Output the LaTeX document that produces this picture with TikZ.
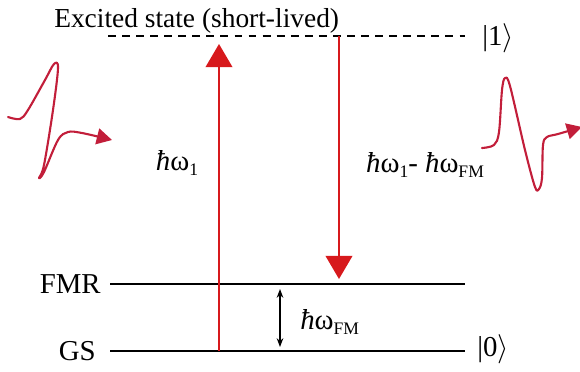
\documentclass[tikz,border=0pt]{standalone}
\usepackage{fontspec}
\setmainfont{Liberation Serif}
\usetikzlibrary{arrows.meta}
\definecolor{beamred}{HTML}{D7191C}
\definecolor{pulsered}{HTML}{C21E3A}
\newcommand{\lowsub}[1]{\raisebox{-0.45ex}{\fontsize{12.5}{12.5}\selectfont #1}}
\newcommand{\hbarit}{{\itshape ħ}}
\begin{document}
\begin{tikzpicture}[
    x=0.025cm, y=-0.025cm,
    every node/.style={font=\fontsize{20.5}{23}\selectfont, inner sep=0pt},
    level/.style={line width=2pt, black},
    beam/.style={line width=2pt, beamred,
                 -{Triangle[length=5.8mm, width=6.8mm, line width=0pt]}},
    pulse/.style={line width=1.5pt, pulsered, line cap=round, line join=round,
                  -{Triangle[length=3.8mm, width=4mm]}},
  ]
  \useasboundingbox (0,0) rectangle (580,371);
  % levels
  \coordinate (exL) at (108,36);  \coordinate (exR) at (465,36);
  \coordinate (fmrL) at (110,284); \coordinate (fmrR) at (465,284);
  \coordinate (gsL) at (110,351);  \coordinate (gsR) at (465,351);
  \draw[line width=1.5pt, dash pattern=on 5.6pt off 4.4pt] (exL) -- (exR);
  \draw[level] (fmrL) -- (fmrR);
  \draw[level] (gsL) -- (gsR);
  \node[anchor=base west, font=\fontsize{19.5}{22}\selectfont] (exlab) at (54,27)
    {Excited state (short-lived)};
  \node[anchor=east] (fmrlab) at (101,284) {FMR};
  \node[anchor=east] (gslab) at (96,351) {GS};
  \node[anchor=west] (ket1) at (482,38) {|1$\rangle$};
  \node[anchor=west] (ket0) at (477,349) {|0$\rangle$};
  % transitions
  \coordinate (upS) at (219,351); \coordinate (upE) at (219,44);
  \coordinate (dnS) at (339,36);  \coordinate (dnE) at (339,279);
  \draw[beam] (upS) -- (upE);
  \draw[beam] (dnS) -- (dnE);
  \coordinate (gapT) at (280,289); \coordinate (gapB) at (280,347);
  \draw[line width=1pt, {Stealth[length=2.2mm]}-{Stealth[length=2.2mm]}] (gapT) -- (gapB);
  \node[anchor=west] (wfm) at (300,322) {\hbarit ω\lowsub{FM}};
  \node (w1) at (177,163) {\hbarit ω\lowsub{1}};
  \node (wdiff) at (425,165) {\hbarit ω\lowsub{1}- \hbarit ω\lowsub{FM}};
  % pulses
  \draw[pulse] plot[smooth, tension=0.55] coordinates {(8,117) (20,119) (28,110)
    (45,80) (54,64) (58,68) (53,110) (44,165) (39,178) (44,172) (58,140)
    (68,132) (82,133) (112,140)};
  \draw[pulse] plot[smooth, tension=0.55] coordinates {(482,148) (494,145) (499,132)
    (502,90) (505,78) (510,86) (525,150) (535,187) (539,189) (542,178)
    (543,145) (547,137) (558,134) (582,127)};
\end{tikzpicture}
\end{document}
